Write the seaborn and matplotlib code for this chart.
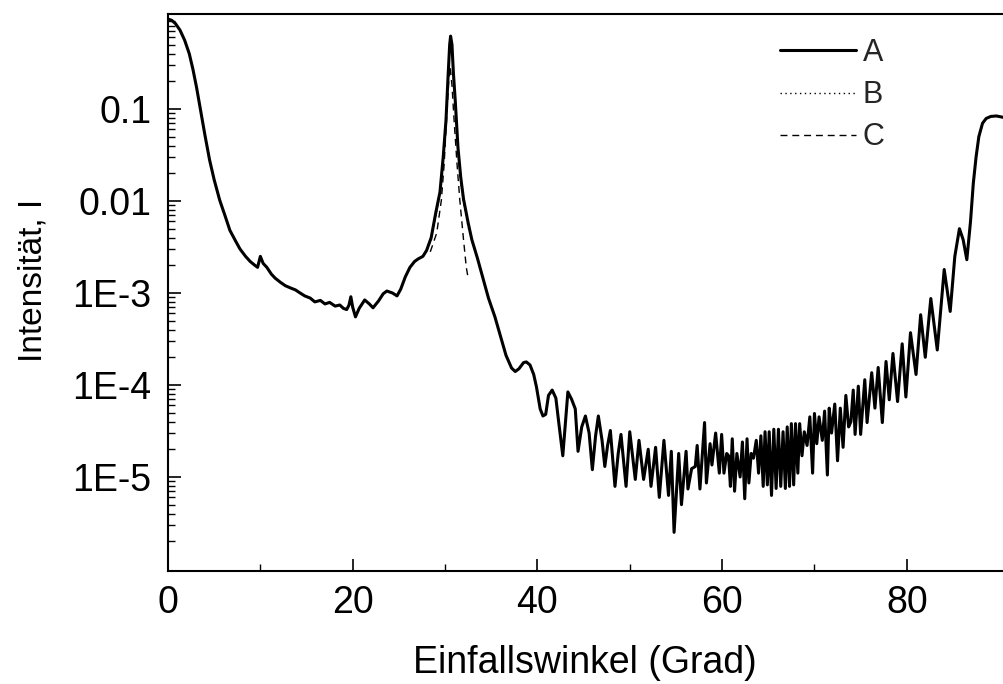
import numpy as np
import pandas as pd
import matplotlib
matplotlib.use("Agg")
import matplotlib.pyplot as plt
from matplotlib.ticker import FixedLocator, FixedFormatter, LogLocator, NullFormatter
import seaborn as sns

# ---------------- data ----------------
a_x = [0.0, 0.4, 0.8, 1.3, 1.8, 2.3, 2.7, 3.1, 3.5, 4.0, 4.5, 5.0, 5.6, 6.2, 6.7, 7.3, 7.8, 8.4,
       8.9, 9.4, 9.7, 10.0, 10.3, 10.7, 11.2, 11.6, 12.2, 12.7, 13.3, 13.8, 14.3, 14.8, 15.4, 15.9,
       16.5, 17.0, 17.5, 18.1, 18.6, 19.0, 19.35, 19.6, 19.8, 20.0, 20.3, 20.7, 21.3, 21.8, 22.2,
       22.8, 23.3, 23.7, 24.3, 24.8, 25.2, 25.7, 26.2, 26.7, 27.1, 27.6, 28.0, 28.5, 29.0, 29.45,
       29.8, 30.1, 30.3, 30.5, 30.6, 30.75, 30.9, 31.1, 31.4, 31.7, 32.0, 32.5, 32.9, 33.5, 34.1,
       34.7, 35.4, 36.0, 36.6, 37.2, 37.6, 38.0, 38.5, 38.8, 39.2, 39.6, 39.9, 40.3, 40.6, 40.9,
       41.2, 41.6, 42.0, 42.3, 42.75, 43.3, 43.7, 44.1, 44.4, 44.8, 45.2, 45.6, 45.95, 46.3, 46.6,
       47.0, 47.3, 47.6, 47.9, 48.4, 48.75, 49.05, 49.6, 50.0, 50.6, 51.0, 51.5, 52.0, 52.3, 52.8,
       53.2, 53.7, 54.2, 54.5, 54.8, 55.3, 55.6, 56.1, 56.3, 56.7, 57.1, 57.3, 57.6, 58.1, 58.3,
       58.7, 58.9, 59.3, 59.7, 59.95, 60.2, 60.5, 60.7, 60.9, 61.1, 61.35, 61.6, 61.95, 62.2, 62.45,
       62.7, 62.9, 63.15, 63.4, 63.7, 63.95, 64.2, 64.45, 64.65, 64.9, 65.1, 65.35, 65.6, 65.85,
       66.1, 66.35, 66.6, 66.85, 67.05, 67.3, 67.5, 67.75, 67.95, 68.2, 68.4, 68.65, 68.9, 69.2,
       69.5, 69.8, 70.0, 70.25, 70.5, 70.85, 71.1, 71.4, 71.6, 71.85, 72.2, 72.5, 72.8, 73.1, 73.4,
       73.7, 73.95, 74.2, 74.4, 74.75, 75.0, 75.45, 75.7, 76.2, 76.55, 76.9, 77.35, 77.75, 78.1,
       78.5, 79.0, 79.5, 79.9, 80.4, 81.0, 81.5, 82.0, 82.6, 83.3, 84.05, 84.7, 85.2, 85.7, 86.1,
       86.5, 86.9, 87.2, 87.5, 87.8, 88.2, 88.6, 89.1, 89.7, 90.5, 91.5]
a_y = [0.95, 0.92, 0.85, 0.72, 0.56, 0.40, 0.27, 0.17, 0.10, 0.052, 0.028, 0.017, 0.0102, 0.0068,
       0.0048, 0.0037, 0.0030, 0.0025, 0.0022, 0.0020, 0.0019, 0.0025, 0.0021, 0.0019, 0.0016,
       0.00145, 0.0013, 0.0012, 0.00113, 0.00108, 0.00100, 0.00093, 0.00088, 0.00080, 0.00083,
       0.00076, 0.00079, 0.00072, 0.00074, 0.00068, 0.00066, 0.00074, 0.00091, 0.00070, 0.00055,
       0.00068, 0.00084, 0.00076, 0.00069, 0.00082, 0.00098, 0.00105, 0.00100, 0.00093, 0.00110,
       0.00150, 0.0019, 0.0022, 0.00235, 0.0025, 0.0029, 0.0040, 0.0075, 0.0125, 0.030, 0.075,
       0.20, 0.50, 0.62, 0.50, 0.25, 0.125, 0.038, 0.018, 0.0105, 0.0058, 0.0038, 0.0024, 0.00145,
       0.00088, 0.00055, 0.00034, 0.00021, 0.000153, 0.000140, 0.000150, 0.000175, 0.000178,
       0.000165, 0.000130, 0.000095, 0.000055, 0.000046, 0.000048, 0.000077, 0.000088, 0.000072,
       0.000040, 1.7e-5, 8.4e-5, 7.0e-5, 5.5e-5, 1.9e-5, 3.5e-5, 4.6e-5, 3.0e-5, 1.2e-5, 2.8e-5,
       4.6e-5, 2.5e-5, 1.3e-5, 2.2e-5, 3.2e-5, 7.9e-6, 1.8e-5, 2.9e-5, 7.9e-6, 3.1e-5, 9.4e-6,
       2.5e-5, 9.4e-6, 2.0e-5, 7.9e-6, 2.1e-5, 6.0e-6, 2.5e-5, 6.3e-6, 1.9e-5, 2.5e-6, 1.8e-5,
       5.0e-6, 1.9e-5, 7.4e-6, 1.23e-5, 1.3e-5, 2.2e-5, 7.4e-6, 3.9e-5, 8.6e-6, 2.3e-5, 1.35e-5,
       3.0e-5, 1.1e-5, 2.9e-5, 1.1e-5, 1.8e-5, 1.7e-5, 7.9e-6, 2.6e-5, 7.0e-6, 1.8e-5, 1.0e-5,
       2.4e-5, 5.8e-6, 2.6e-5, 8.6e-6, 1.8e-5, 1.6e-5, 2.5e-5, 1.1e-5, 2.8e-5, 7.9e-6, 3.1e-5,
       8.2e-6, 3.1e-5, 6.3e-6, 3.3e-5, 7.5e-6, 3.3e-5, 7.9e-6, 3.1e-5, 7.5e-6, 3.5e-5, 7.9e-6,
       3.8e-5, 8.2e-6, 3.8e-5, 1.1e-5, 3.8e-5, 1.7e-5, 3.1e-5, 2.2e-5, 4.5e-5, 1.1e-5, 4.9e-5,
       2.3e-5, 4.5e-5, 2.5e-5, 5.2e-5, 1.05e-5, 5.6e-5, 3.0e-5, 6.2e-5, 1.5e-5, 5.6e-5, 2.1e-5,
       7.7e-5, 3.5e-5, 4.0e-5, 8.8e-5, 2.9e-5, 9.7e-5, 2.9e-5, 1.14e-4, 3.9e-5, 1.36e-4, 5.6e-5,
       1.55e-4, 3.9e-5, 1.8e-4, 6.9e-5, 2.2e-4, 6.6e-5, 2.8e-4, 7.4e-5, 3.7e-4, 1.3e-4, 5.8e-4,
       2.0e-4, 8.7e-4, 2.4e-4, 1.8e-3, 6.3e-4, 2.5e-3, 5.0e-3, 3.8e-3, 2.3e-3, 6.0e-3, 0.0155,
       0.030, 0.050, 0.070, 0.079, 0.083, 0.084, 0.081, 0.075]

b_x = [27.8, 28.5, 29.0, 29.45, 29.8, 30.1, 30.3, 30.5, 30.6, 30.75, 30.9, 31.1, 31.4, 31.7,
       32.0, 32.5, 33.0]
b_y = [0.0027, 0.0037, 0.0068, 0.012, 0.028, 0.07, 0.18, 0.45, 0.55, 0.45, 0.22, 0.11, 0.034,
       0.016, 0.0095, 0.0052, 0.0034]

c_x = [28.4, 28.6, 29.1, 29.6, 29.9, 30.2, 30.4, 30.55, 30.75, 31.0, 31.3, 31.6, 32.0, 32.3, 32.5]
c_y = [0.0028, 0.0032, 0.0045, 0.0102, 0.025, 0.09, 0.20, 0.29, 0.18, 0.07, 0.025, 0.0102,
       0.0038, 0.0019, 0.00145]

series_names = ["A", "B", "C"]
y_major = [1e-5, 1e-4, 1e-3, 1e-2, 1e-1]
y_labels = ["1E-5", "1E-4", "1E-3", "0.01", "0.1"]
x_major = [0, 20, 40, 60, 80]
x_labels = ["0", "20", "40", "60", "80"]
x_minor = [10, 30, 50, 70]
x_label = "Einfallswinkel (Grad)"
y_label = "Intensität, I"

# ---------------- style ----------------
sns.set_theme(style="ticks")
plt.rcParams["font.family"] = ["Liberation Sans", "DejaVu Sans"]
plt.rcParams["axes.linewidth"] = 1.5

W, H = 1004, 684
fig = plt.figure(figsize=(W / 100, H / 100), dpi=100)
px_per_unit = 184.7 / 20.0
xmax = 92.0
ax_w = xmax * px_per_unit
ax = fig.add_axes([168 / W, 113 / H, ax_w / W, 557 / H])

df_a = pd.DataFrame({"x": a_x, "y": a_y})
df_b = pd.DataFrame({"x": b_x, "y": b_y})
df_c = pd.DataFrame({"x": c_x, "y": c_y})

sns.lineplot(data=df_c, x="x", y="y", ax=ax, color="black", linewidth=1.0,
             linestyle=(0, (5, 3.5)), estimator=None, sort=False, label=series_names[2])
sns.lineplot(data=df_b, x="x", y="y", ax=ax, color="black", linewidth=1.0,
             linestyle=(0, (1, 2.5)), estimator=None, sort=False, label=series_names[1])
sns.lineplot(data=df_a, x="x", y="y", ax=ax, color="black", linewidth=2.2,
             estimator=None, sort=False, label=series_names[0])

ax.set_yscale("log")
ax.set_xlim(0, xmax)
ax.set_ylim(9.5e-7, 1.078)

ax.xaxis.set_major_locator(FixedLocator(x_major))
ax.xaxis.set_major_formatter(FixedFormatter(x_labels))
ax.xaxis.set_minor_locator(FixedLocator(x_minor))
ax.yaxis.set_major_locator(FixedLocator(y_major))
ax.yaxis.set_major_formatter(FixedFormatter(y_labels))
ax.yaxis.set_minor_locator(LogLocator(base=10, subs=np.arange(2, 10)))
ax.yaxis.set_minor_formatter(NullFormatter())

ax.tick_params(axis="both", which="major", direction="in", length=9, width=1.2,
               labelsize=27, color="black", labelcolor="black")
ax.tick_params(axis="both", which="minor", direction="in", length=5, width=1.0, color="black")
ax.tick_params(axis="x", which="major", pad=10)
ax.tick_params(axis="y", which="major", pad=12)
ax.tick_params(top=False, right=False, which="both")

for s in ax.spines.values():
    s.set_color("black")
    s.set_linewidth(1.5)

ax.set_xlabel(x_label, fontsize=27, color="black")
ax.set_ylabel(y_label, fontsize=24, color="black")
ax.xaxis.set_label_coords((585 - 168) / ax_w, -(663 - 571) / 557, transform=ax.transAxes)
ax.xaxis.label.set_va("center")
ax.yaxis.set_label_coords(-(168 - 33) / ax_w, (571 - 280) / 557, transform=ax.transAxes)
ax.yaxis.label.set_va("center")

handles, labels = ax.get_legend_handles_labels()
order = [labels.index(n) for n in series_names]
leg = ax.legend([handles[i] for i in order], [labels[i] for i in order],
                loc="upper left", bbox_to_anchor=(780 / W, 1 - 38 / H),
                bbox_transform=fig.transFigure, frameon=False, fontsize=22,
                handlelength=2.5, handletextpad=0.2, labelspacing=0.4, borderpad=0,
                borderaxespad=0)

fig.savefig("out.png", dpi=100)
